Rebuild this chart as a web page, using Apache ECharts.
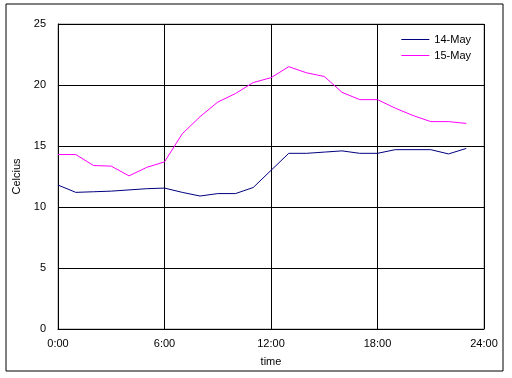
<!DOCTYPE html>
<html>
<head>
<meta charset="utf-8">
<script src="https://cdn.jsdelivr.net/npm/echarts@6/dist/echarts.min.js"></script>
<style>
  html, body { margin: 0; padding: 0; background: #fff; }
  #chart { width: 512px; height: 378px; }
</style>
</head>
<body>
<div id="chart"></div>
<script>
// hourly readings
const hours = [0, 1, 2, 3, 4, 5, 6, 7, 8, 9, 10, 11, 12, 13, 14, 15, 16, 17, 18, 19, 20, 21, 22, 23];
const may14 = [11.8, 11.2, 11.25, 11.3, 11.4, 11.5, 11.55, 11.2, 10.9, 11.1, 11.1, 11.6, 13.0, 14.4, 14.4, 14.5, 14.6, 14.4, 14.4, 14.7, 14.7, 14.7, 14.35, 14.8];
const may15 = [14.3, 14.3, 13.4, 13.35, 12.55, 13.25, 13.7, 16.0, 17.4, 18.6, 19.3, 20.2, 20.6, 21.5, 21.0, 20.7, 19.4, 18.8, 18.8, 18.1, 17.5, 17.0, 17.0, 16.85];
const xTicks = [0, 6, 12, 18, 24];
const yTicks = [0, 5, 10, 15, 20, 25];

const font = 'Liberation Sans, Arial, sans-serif';
const chart = echarts.init(document.getElementById('chart'));

chart.setOption({
  backgroundColor: '#fff',
  animation: false,
  graphic: [{
    type: 'rect',
    shape: { x: 6, y: 4, width: 497, height: 367 },
    style: { fill: 'none', stroke: '#000', lineWidth: 1 }
  }],
  legend: {
    top: 29,
    right: 36,
    orient: 'vertical',
    itemWidth: 28,
    itemHeight: 1,
    itemGap: 5,
    icon: 'rect',
    textStyle: { color: '#000', fontSize: 11, fontFamily: font },
    data: ['14-May', '15-May']
  },
  grid: {
    left: 58,
    right: 28,
    top: 24,
    bottom: 49,
    show: true,
    borderColor: '#999',
    borderWidth: 1
  },
  xAxis: {
    type: 'value',
    min: xTicks[0],
    max: xTicks[xTicks.length - 1],
    interval: 6,
    name: 'time',
    nameLocation: 'middle',
    nameGap: 27,
    nameTextStyle: { color: '#000', fontSize: 11, fontFamily: font },
    axisLine: { lineStyle: { color: '#000' } },
    axisTick: { show: false },
    axisLabel: {
      color: '#000',
      fontSize: 11,
      fontFamily: font,
      margin: 9,
      formatter: v => v + ':00'
    },
    splitLine: { show: true, lineStyle: { color: '#000', width: 1 } }
  },
  yAxis: {
    type: 'value',
    min: yTicks[0],
    max: yTicks[yTicks.length - 1],
    interval: 5,
    name: 'Celcius',
    nameLocation: 'middle',
    nameGap: 23,
    nameTextStyle: { color: '#000', fontSize: 11, fontFamily: font },
    axisLine: { show: true, lineStyle: { color: '#000' } },
    axisTick: { show: false },
    axisLabel: { color: '#000', fontSize: 11, fontFamily: font, margin: 12 },
    splitLine: { show: true, lineStyle: { color: '#000', width: 1 } }
  },
  series: [
    {
      name: '14-May',
      type: 'line',
      data: hours.map((h, i) => [h, may14[i]]),
      symbol: 'none',
      lineStyle: { color: '#000080', width: 1 },
      itemStyle: { color: '#000080' }
    },
    {
      name: '15-May',
      type: 'line',
      data: hours.map((h, i) => [h, may15[i]]),
      symbol: 'none',
      lineStyle: { color: '#ff00ff', width: 1 },
      itemStyle: { color: '#ff00ff' }
    }
  ]
});
</script>
</body>
</html>
